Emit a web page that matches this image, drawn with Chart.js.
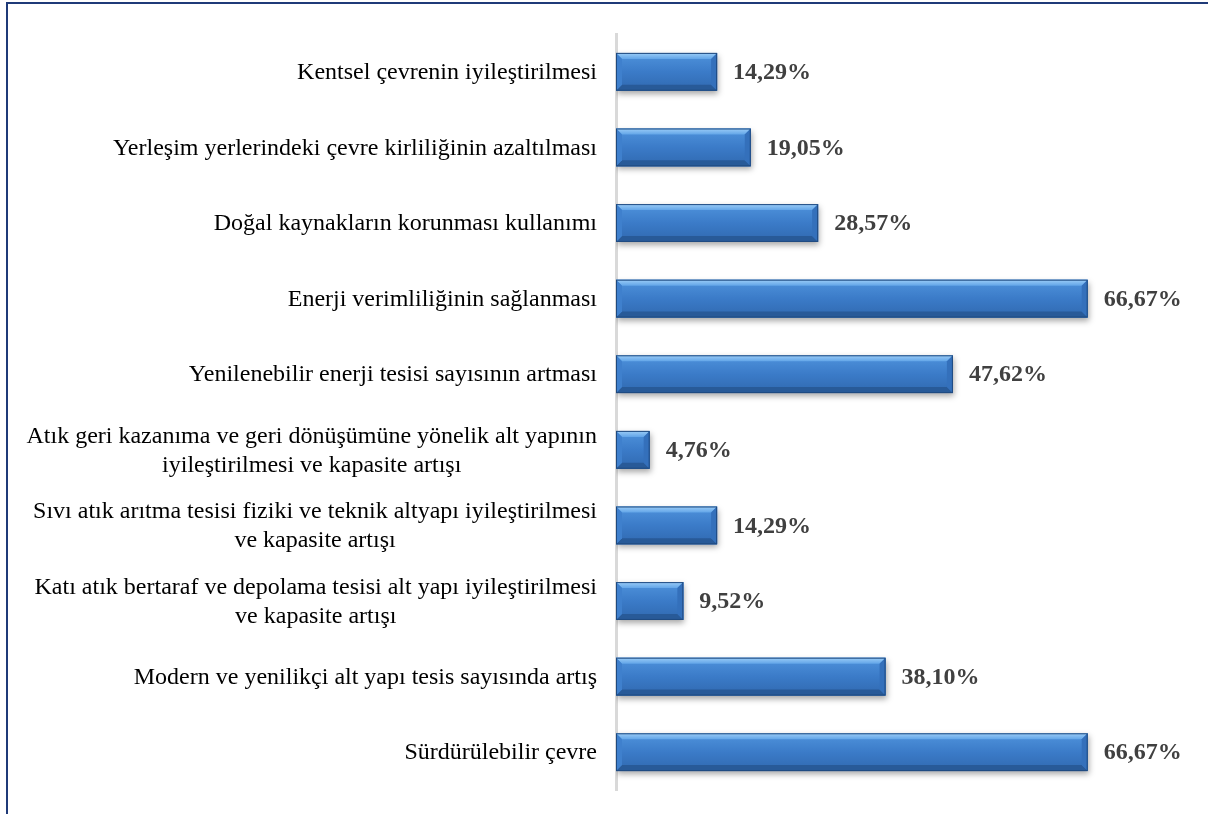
<!DOCTYPE html>
<html lang="tr">
<head>
<meta charset="UTF-8">
<title>Çevre öncelikleri</title>
<script src="https://cdn.jsdelivr.net/npm/chart.js"></script>
<style>
    html, body {
        margin: 0;
        padding: 0;
        background: #ffffff;
        overflow: hidden;
    }
    .frame {
        position: absolute;
        left: 6px;
        top: 2px;
        width: 1300px;
        height: 900px;
        border-left: 2px solid #1f3a78;
        border-top: 2px solid #1f3a78;
    }
    .wrap {
        position: absolute;
        left: 0;
        top: 0;
        width: 1208px;
        height: 814px;
    }
</style>
</head>
<body>
<div class="frame"></div>
<div class="wrap"><canvas id="chart"></canvas></div>
<script>
// categories, top to bottom
const categories = [
    ['Kentsel çevrenin iyileştirilmesi'],
    ['Yerleşim yerlerindeki çevre kirliliğinin azaltılması'],
    ['Doğal kaynakların korunması kullanımı'],
    ['Enerji verimliliğinin sağlanması'],
    ['Yenilenebilir enerji tesisi sayısının artması'],
    ['Atık geri kazanıma ve geri dönüşümüne yönelik alt yapının', 'iyileştirilmesi ve kapasite artışı'],
    ['Sıvı atık arıtma tesisi fiziki ve teknik altyapı iyileştirilmesi', 've kapasite artışı'],
    ['Katı atık bertaraf ve depolama tesisi alt yapı iyileştirilmesi', 've kapasite artışı'],
    ['Modern ve yenilikçi alt yapı tesis sayısında artış'],
    ['Sürdürülebilir çevre']
];
const values = [14.29, 19.05, 28.57, 66.67, 47.62, 4.76, 14.29, 9.52, 38.10, 66.67];
const valueLabels = ['14,29%', '19,05%', '28,57%', '66,67%', '47,62%', '4,76%', '14,29%', '9,52%', '38,10%', '66,67%'];

const serif = '"Liberation Serif", "Times New Roman", serif';

// shadow under the bars
const shadowPlugin = {
    id: 'barShadow',
    beforeDatasetsDraw(chart) {
        const ctx = chart.ctx;
        ctx.save();
        ctx.shadowColor = 'rgba(0,0,0,0.35)';
        ctx.shadowBlur = 6;
        ctx.shadowOffsetX = 1;
        ctx.shadowOffsetY = 3;
    },
    afterDatasetsDraw(chart) {
        chart.ctx.restore();
    }
};

// bevel look + value labels + category labels
const decoPlugin = {
    id: 'deco',
    afterDatasetsDraw(chart) {
        const ctx = chart.ctx;
        const meta = chart.getDatasetMeta(0);
        ctx.save();
        meta.data.forEach((bar, i) => {
            const p = bar.getProps(['x', 'y', 'base', 'height'], true);
            const x0 = p.base, x1 = p.x;
            const yT = p.y - p.height / 2, yB = p.y + p.height / 2;
            const b = Math.min(6, (x1 - x0) / 2);

            const g = ctx.createLinearGradient(0, yT, 0, yB);
            g.addColorStop(0, '#4f93dc');
            g.addColorStop(0.5, '#3b7bc8');
            g.addColorStop(1, '#3069b0');
            ctx.fillStyle = g;
            ctx.fillRect(x0, yT, x1 - x0, yB - yT);

            // top bevel
            const gt = ctx.createLinearGradient(0, yT, 0, yT + b);
            gt.addColorStop(0, '#9ccdf7');
            gt.addColorStop(1, '#62a5e8');
            ctx.fillStyle = gt;
            ctx.beginPath();
            ctx.moveTo(x0, yT); ctx.lineTo(x1, yT); ctx.lineTo(x1 - b, yT + b); ctx.lineTo(x0 + b, yT + b);
            ctx.closePath(); ctx.fill();

            // bottom bevel
            ctx.fillStyle = '#285a98';
            ctx.beginPath();
            ctx.moveTo(x0, yB); ctx.lineTo(x1, yB); ctx.lineTo(x1 - b, yB - b); ctx.lineTo(x0 + b, yB - b);
            ctx.closePath(); ctx.fill();

            // right bevel
            ctx.fillStyle = '#3470bb';
            ctx.beginPath();
            ctx.moveTo(x1, yT); ctx.lineTo(x1, yB); ctx.lineTo(x1 - b, yB - b); ctx.lineTo(x1 - b, yT + b);
            ctx.closePath(); ctx.fill();

            // left bevel
            ctx.fillStyle = '#3f80cd';
            ctx.beginPath();
            ctx.moveTo(x0, yT); ctx.lineTo(x0, yB); ctx.lineTo(x0 + b, yB - b); ctx.lineTo(x0 + b, yT + b);
            ctx.closePath(); ctx.fill();

            ctx.strokeStyle = '#1f4a80';
            ctx.lineWidth = 1;
            ctx.strokeRect(x0 + 0.5, yT + 0.5, x1 - x0 - 1, yB - yT - 1);

            // value label
            ctx.fillStyle = '#404040';
            ctx.font = 'bold 24px ' + serif;
            ctx.textAlign = 'left';
            ctx.textBaseline = 'middle';
            ctx.fillText(valueLabels[i], x1 + 16, p.y + 1);
        });

        // category labels, multi-line ones centred on their widest line
        const yScale = chart.scales.y;
        const right = yScale.right - 19;
        ctx.fillStyle = '#000000';
        ctx.font = '24px ' + serif;
        ctx.textBaseline = 'middle';
        ctx.textAlign = 'center';
        const lh = 29;
        chart.data.labels.forEach((lines, i) => {
            const yc = yScale.getPixelForTick(i);
            const w = Math.max(...lines.map(l => ctx.measureText(l).width));
            const cx = right - w / 2;
            const y0 = yc - (lines.length - 1) * lh / 2;
            lines.forEach((l, k) => ctx.fillText(l, cx, y0 + k * lh + 1));
        });
        ctx.restore();
    }
};

new Chart(document.getElementById('chart'), {
    type: 'bar',
    data: {
        labels: categories,
        datasets: [{
            data: values,
            backgroundColor: '#3b7bc8',
            borderWidth: 0,
            barPercentage: 0.5,
            categoryPercentage: 1
        }]
    },
    options: {
        indexAxis: 'y',
        responsive: true,
        maintainAspectRatio: false,
        animation: false,
        layout: { padding: { left: 0, right: 26, top: 34, bottom: 24 } },
        plugins: {
            legend: { display: false },
            tooltip: { enabled: false }
        },
        scales: {
            x: {
                display: false,
                min: 0,
                max: 80
            },
            y: {
                grid: { display: false },
                border: { display: true, color: '#d9d9d9', width: 3 },
                ticks: { display: false },
                afterFit(scale) { scale.width = 616; }
            }
        }
    },
    plugins: [shadowPlugin, decoPlugin]
});
</script>
</body>
</html>
